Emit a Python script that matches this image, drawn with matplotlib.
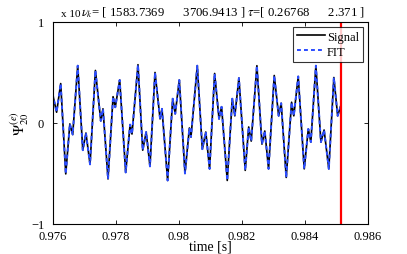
import numpy as np
import matplotlib
matplotlib.use("Agg")
import matplotlib.pyplot as plt

plt.rcParams['font.family'] = ['Liberation Serif', 'DejaVu Serif']
plt.rcParams['mathtext.fontset'] = 'stix'

# extrema of the signal (time in s, amplitude in units of the offset)
t = [0.97600, 0.97613, 0.97626, 0.97642, 0.97655, 0.97664, 0.97680, 0.97696,
     0.97706, 0.97719, 0.97736, 0.97753, 0.97760, 0.97776, 0.97792, 0.97799,
     0.97813, 0.97832, 0.97846, 0.97852, 0.97871, 0.97886, 0.97897, 0.97909,
     0.97925, 0.97941, 0.97947, 0.97965, 0.97981, 0.97989, 0.98002, 0.98020,
     0.98034, 0.98039, 0.98059, 0.98075, 0.98086, 0.98098, 0.98114, 0.98128,
     0.98136, 0.98154, 0.98170, 0.98178, 0.98191, 0.98211, 0.98222, 0.98230,
     0.98248, 0.98264, 0.98273, 0.98285, 0.98303, 0.98317, 0.98325, 0.98341,
     0.98358, 0.98365, 0.98379, 0.98398, 0.98411, 0.98419, 0.98435, 0.98451,
     0.98461, 0.98476, 0.98492, 0.98504, 0.98514]
signal = [0.29, 0.106, 0.39, -0.505, -0.01, -0.115, 0.567, -0.27,
          -0.10, -0.41, 0.52, 0.02, 0.14, -0.555, 0.26, 0.155,
          0.425, -0.49, -0.017, -0.11, 0.577, -0.27, -0.09, -0.43,
          0.50, 0.04, 0.14, -0.57, 0.24, 0.09, 0.425, -0.50,
          -0.05, -0.14, 0.567, -0.26, -0.09, -0.455, 0.49, 0.04,
          0.16, -0.57, 0.24, 0.07, 0.445, -0.47, -0.04, -0.18,
          0.567, -0.21, -0.08, -0.455, 0.47, 0.07, 0.195, -0.54,
          0.205, 0.07, 0.46, -0.455, -0.06, -0.19, 0.567, -0.19,
          -0.07, -0.455, 0.45, 0.07, 0.17]
fit = list(signal)  # fit lies on top of the signal

t_end = 0.98514
xticks = [0.976, 0.978, 0.980, 0.982, 0.984, 0.986]
xticklabels = ['0.976', '0.978', '0.98', '0.982', '0.984', '0.986']
yticks = [-1, 0, 1]

fig = plt.figure(figsize=(4.07, 2.55), dpi=100)
ax = fig.add_axes([0.129, 0.118, 0.775, 0.792])

ax.plot(t, signal, color='black', lw=1.2, label='Signal')
ax.plot(t, fit, color='#2a4cff', lw=1.4, ls=(0, (2, 1.6)), label='FIT')
ax.axvline(t_end, color='red', lw=1.6)

ax.set_xlim(0.976, 0.986)
ax.set_ylim(-1, 1)
ax.set_xticks(xticks)
ax.set_xticklabels(xticklabels)
ax.set_yticks(yticks)
ax.tick_params(direction='in', top=True, right=True, labelsize=9, length=3, width=0.6)
ax.tick_params(axis='x', pad=4.5)
ax.tick_params(axis='y', pad=6)
for s in ax.spines.values():
    s.set_linewidth(0.8)

ax.set_xlabel('time [s]', fontsize=10, labelpad=-2)
ax.set_ylabel(r'$\Psi^{(e)}_{20}$', fontsize=11, labelpad=0)
ax.set_title(r'$\nu_k$= [ 1583.7369      3706.9413 ] $\tau$=[ 0.26768      2.371 ]',
             fontsize=9.2, pad=5, x=0.54)
ax.text(0.027, 1.02, 'x 10', transform=ax.transAxes, fontsize=8, va='bottom')

leg = ax.legend(loc='upper right', fontsize=9, frameon=True, fancybox=False,
                borderpad=0.3, handlelength=2.2, handletextpad=0.2, labelspacing=0.25,
                borderaxespad=0.4)
leg.get_frame().set_edgecolor('black')
leg.get_frame().set_linewidth(0.8)

fig.savefig('out.png', dpi=100)
